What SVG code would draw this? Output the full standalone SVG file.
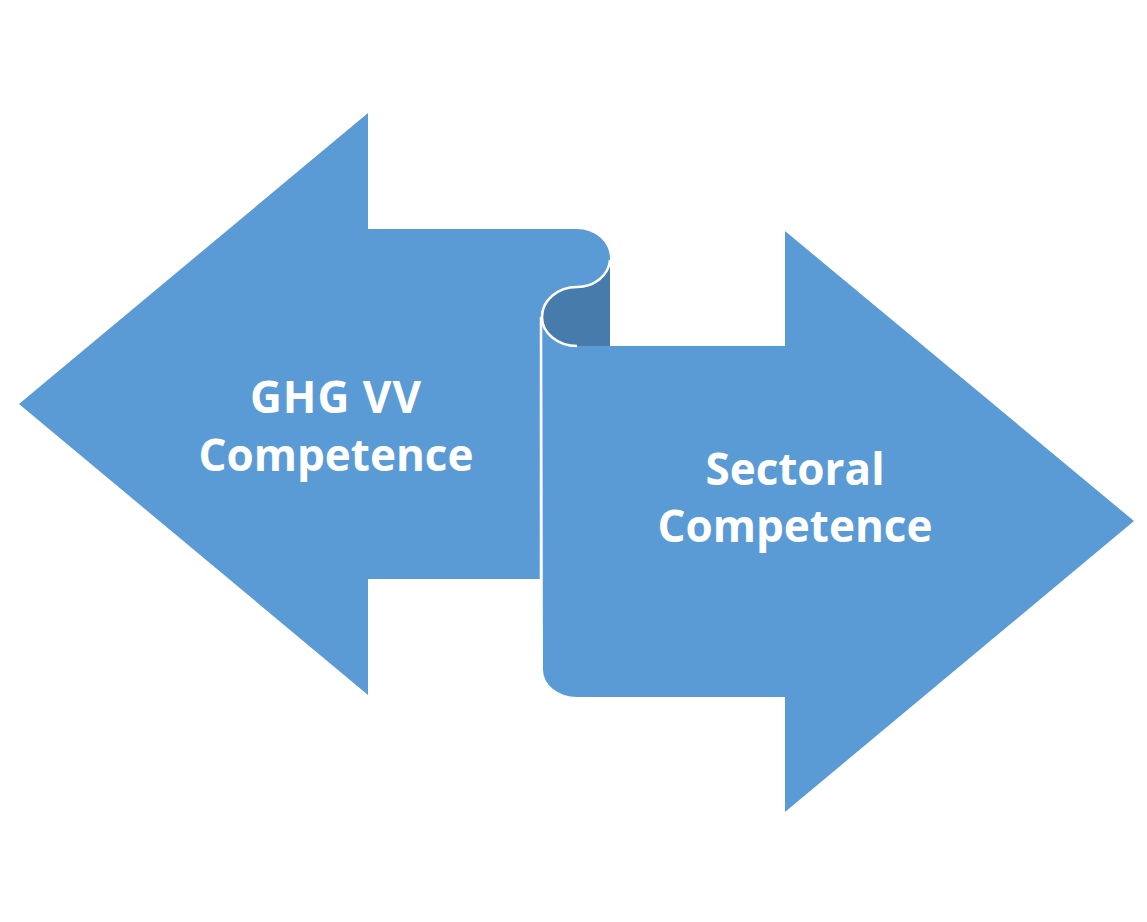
<svg xmlns="http://www.w3.org/2000/svg" width="1147" height="922" viewBox="0 0 1147 922">
<style>
.shape{fill:#5B9BD5;}
.dark{fill:#477BAB;}
.edge{fill:none;stroke:#FFFFFF;stroke-width:2.5;}
.lbl{font-family:"Open Sans","Liberation Sans",sans-serif;font-weight:700;font-size:44px;fill:#FFFFFF;text-anchor:middle;}
</style>
<rect width="1147" height="922" fill="#FFFFFF"/>
<g id="right-arrow">
<path class="shape" d="M542,317 A35,29 0 0 0 577,346 L785,346 L785,231 L1134,521 L785,812 L785,697 L577,697 A34,27 0 0 1 543,670 Z"/>
<text class="lbl" x="795" y="485">Sectoral</text>
<text class="lbl" x="795" y="542">Competence</text>
</g>
<g id="left-arrow">
<path class="shape" d="M19,404 L368,113 L368,229 L577,229 A33,29 0 0 1 577,287 A35,30 0 0 0 542,317 L542,579 L368,579 L368,695 Z"/>
<path class="dark" d="M610,258 L610,346 L577,346 A35,29 0 0 1 542,317 A35,30 0 0 1 577,287 A33,29 0 0 0 610,258 Z"/>
<path class="edge" d="M610,260 A33,29 0 0 1 577,287 A35,30 0 0 0 542,317 A35,29 0 0 0 577,346 M541,317 L541,579"/>
<text class="lbl" x="336" y="413" letter-spacing="1">GHG VV</text>
<text class="lbl" x="336" y="471">Competence</text>
</g>
</svg>
